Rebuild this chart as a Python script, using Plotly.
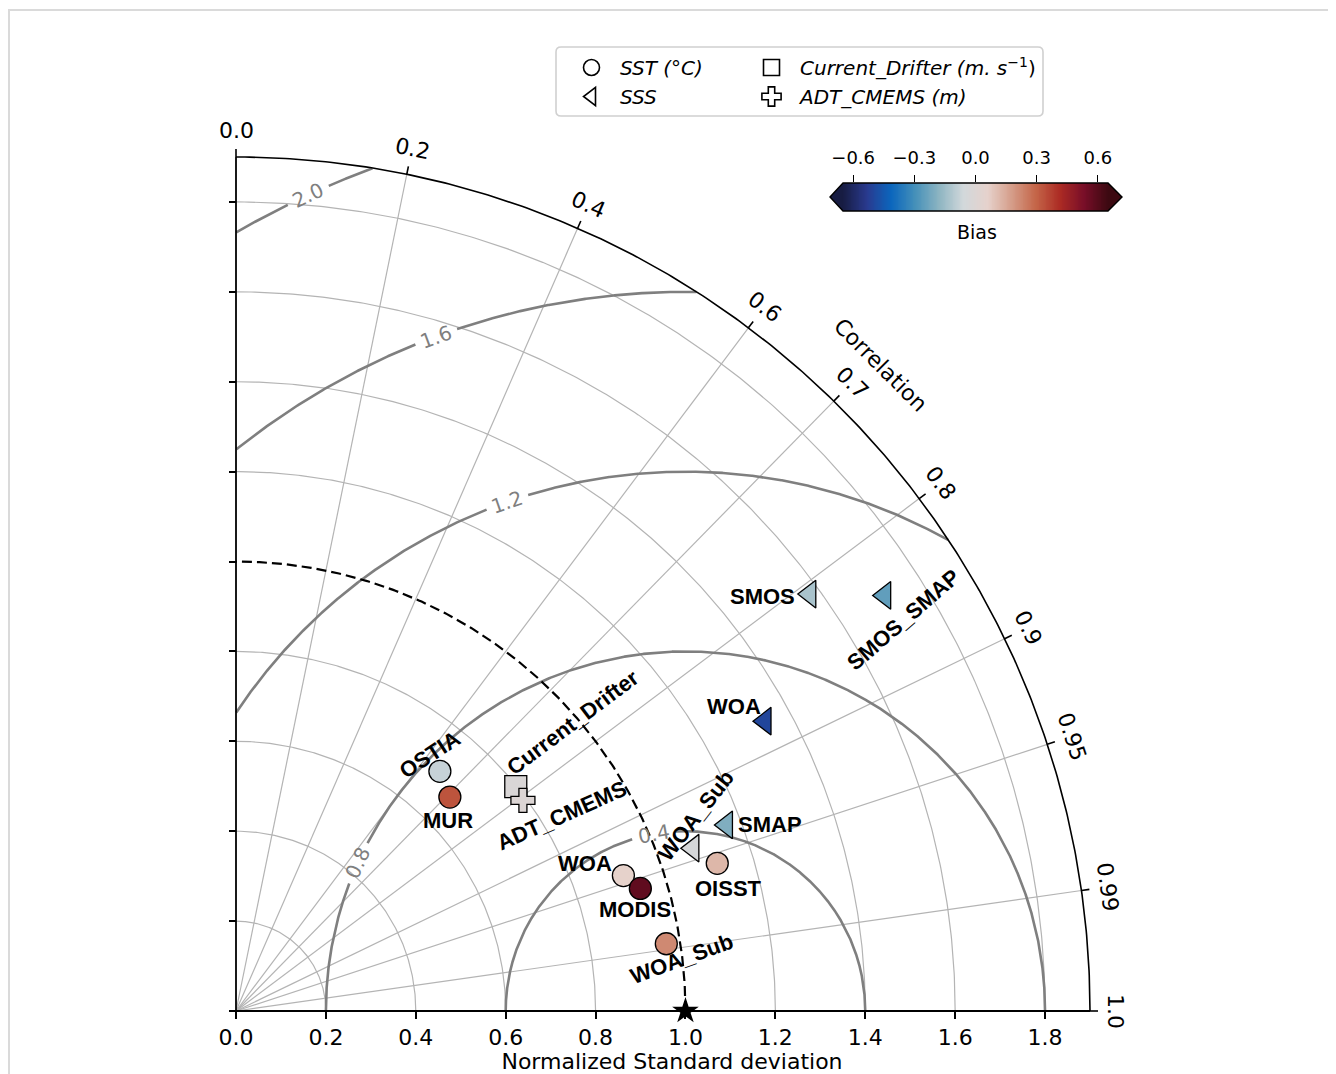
import numpy as np
import plotly.graph_objects as go
from plotly.colors import cmocean

# ---------------- data ----------------
sst_names = ["OSTIA", "MUR", "WOA", "MODIS", "WOA_Sub", "OISST"]
sst_std = [0.700, 0.673, 0.913, 0.940, 0.969, 1.120]
sst_corr = [0.648, 0.707, 0.944, 0.957, 0.988, 0.956]
sst_bias = [-0.08, 0.33, 0.06, 0.58, 0.22, 0.12]

sss_names = ["WOA_Sub", "SMAP", "WOA", "SMOS", "SMOS_SMAP"]
sss_std = [1.079, 1.167, 1.342, 1.578, 1.714]
sss_corr = [0.942, 0.935, 0.877, 0.809, 0.842]
sss_bias = [-0.04, -0.20, -0.50, -0.13, -0.25]

drifter_names = ["Current_Drifter"]
drifter_std = [0.798]
drifter_corr = [0.780]
drifter_bias = [-0.02]

adt_names = ["ADT_CMEMS"]
adt_std = [0.792]
adt_corr = [0.806]
adt_bias = [0.00]

ref_std = [1.0]
ref_corr = [1.0]

std_ticks = [0.0, 0.2, 0.4, 0.6, 0.8, 1.0, 1.2, 1.4, 1.6, 1.8]
std_grid = [0.2, 0.4, 0.6, 0.8, 1.2, 1.4, 1.6, 1.8]
corr_ticks = [0.0, 0.2, 0.4, 0.6, 0.7, 0.8, 0.9, 0.95, 0.99, 1.0]
corr_grid = [0.2, 0.4, 0.6, 0.7, 0.8, 0.9, 0.95, 0.99]
rms_levels = [0.4, 0.8, 1.2, 1.6, 2.0]
bias_ticks = [-0.6, -0.3, 0.0, 0.3, 0.6]
bias_ticktext = ["\u22120.6", "\u22120.3", "0.0", "0.3", "0.6"]
bias_range = [-0.65, 0.65]
std_max = 1.9

# ---------------- styles ----------------
OFF = 8                      # page body margin
W, H = 1336 - OFF, 1074 - OFF
X0, Y0 = 236 - OFF, 1011 - OFF   # pixel of origin inside the figure
S = 854 / 1.9                # pixels per unit
GRID = "#b4b4b4"
CONT = "#7f7f7f"
balance = cmocean.balance

# label placement (dx, dy in px, screen dy down; textangle)
sst_lbl = {"OSTIA": (-10, -17, -33), "MUR": (-2, 23, 0), "WOA": (-38, -12, 0),
           "MODIS": (-5, 21, 0), "WOA_Sub": (16, 15, -20), "OISST": (11, 25, 0)}
sss_lbl = {"WOA_Sub": (3, -33, -52), "SMAP": (44, 0, 0), "WOA": (-31, -15, 0),
           "SMOS": (-47, 2, 0), "SMOS_SMAP": (19, 24, -41)}
drf_lbl = {"Current_Drifter": (57, -64, -37)}
adt_lbl = {"ADT_CMEMS": (39, 15, -24)}
rms_label_phi = {0.4: 100.2, 0.8: 155.7, 1.2: 109.3, 1.6: 110.3, 2.0: 114.8}


def to_xy(std, corr):
    s = np.asarray(std, float)
    c = np.asarray(corr, float)
    return s * c, s * np.sqrt(np.clip(1 - c ** 2, 0, None))


def px2paper(px, py):
    # screen pixel -> paper fraction
    return (px - OFF) / W, 1 - (py - OFF) / H


fig = go.Figure()
line_kw = dict(mode="lines", hoverinfo="skip", showlegend=False)

# std arcs (light grid)
th = np.linspace(0, np.pi / 2, 300)
gx, gy = [], []
for r in std_grid:
    gx += list(r * np.cos(th)) + [None]
    gy += list(r * np.sin(th)) + [None]
# radial correlation lines
for c in corr_grid:
    t = np.arccos(c)
    gx += [0, std_max * np.cos(t), None]
    gy += [0, std_max * np.sin(t), None]
fig.add_trace(go.Scatter(x=gx, y=gy, line=dict(color=GRID, width=1.2), **line_kw))

# RMS contours centered on reference
phi = np.linspace(0, np.pi, 3000)
annotations = []
for R in rms_levels:
    cx = 1 + R * np.cos(phi)
    cy = R * np.sin(phi)
    ok = (cx >= 0) & (cx ** 2 + cy ** 2 <= std_max ** 2)
    pl = np.deg2rad(rms_label_phi[R])
    gap = 22 / S / R
    ok &= np.abs(phi - pl) > gap
    fig.add_trace(go.Scatter(x=np.where(ok, cx, np.nan), y=np.where(ok, cy, np.nan),
                             connectgaps=False, line=dict(color=CONT, width=2.6), **line_kw))
    annotations.append(dict(x=1 + R * np.cos(pl), y=R * np.sin(pl), text=f"{R:.1f}",
                            showarrow=False, textangle=-(rms_label_phi[R] - 90),
                            font=dict(family="DejaVu Sans", size=20, color=CONT),
                            xanchor="center", yanchor="middle"))

# reference dashed arc
fig.add_trace(go.Scatter(x=np.cos(th), y=np.sin(th),
                         line=dict(color="black", width=2.2, dash="10px,5px"), **line_kw))
# outer arc
fig.add_trace(go.Scatter(x=std_max * np.cos(th), y=std_max * np.sin(th),
                         line=dict(color="black", width=1.6), **line_kw))
# correlation ticks and labels
tx, ty = [], []
for c in corr_ticks:
    t = np.arccos(c)
    r1 = std_max + 8 / S
    tx += [std_max * np.cos(t), r1 * np.cos(t), None]
    ty += [std_max * np.sin(t), r1 * np.sin(t), None]
    rl = 1.958
    annotations.append(dict(x=rl * np.cos(t), y=rl * np.sin(t),
                            text=f"{c:g}" if c not in (0.0, 1.0) else f"{c:.1f}",
                            showarrow=False, textangle=90 - np.degrees(t),
                            font=dict(family="DejaVu Sans", size=22, color="black"),
                            xanchor="center", yanchor="middle"))
fig.add_trace(go.Scatter(x=tx, y=ty, line=dict(color="black", width=1.6), **line_kw))
tc = np.deg2rad(45.1)
annotations.append(dict(x=2.03 * np.cos(tc), y=2.03 * np.sin(tc), text="Correlation", showarrow=False,
                        textangle=45, font=dict(family="DejaVu Sans", size=22, color="black"),
                        xanchor="center", yanchor="middle"))

# axis lines
fig.add_trace(go.Scatter(x=[0, std_max, None, 0, 0], y=[0, 0, None, 0, std_max],
                         line=dict(color="black", width=1.8), **line_kw))

# data markers
mk_common = dict(colorscale=balance, cmin=bias_range[0], cmax=bias_range[1],
                 line=dict(color="black", width=1.3))
groups = [
    (sst_names, sst_std, sst_corr, sst_bias, "circle", 22, sst_lbl),
    (sss_names, sss_std, sss_corr, sss_bias, "triangle-left", 24, sss_lbl),
    (drifter_names, drifter_std, drifter_corr, drifter_bias, "square", 22, drf_lbl),
    (adt_names, adt_std, adt_corr, adt_bias, "cross", 20, adt_lbl),
]
for names, sd, cr, bs, sym, size, lbl in groups:
    x, y = to_xy(sd, cr)
    fig.add_trace(go.Scatter(x=x, y=y, mode="markers", cliponaxis=False, showlegend=False,
                             text=names, hoverinfo="text",
                             marker=dict(symbol=sym, size=size, color=bs, **mk_common)))
    for n, xi, yi in zip(names, x, y):
        dx, dy, ang = lbl[n]
        annotations.append(dict(x=xi, y=yi, xshift=dx, yshift=-dy, text=f"<b>{n}</b>",
                                showarrow=False, textangle=ang,
                                font=dict(family="Liberation Sans", size=22, color="black"),
                                xanchor="center", yanchor="middle"))

# reference star
rx, ry = to_xy(ref_std, ref_corr)
fig.add_trace(go.Scatter(x=rx, y=ry, mode="markers", cliponaxis=False, showlegend=False,
                         hoverinfo="skip", marker=dict(symbol="star", size=20, color="black")))

# legend entries
leg_items = [
    ("<i>SST (°C)</i>", "circle", "legend"),
    ("<i>SSS</i>", "triangle-left", "legend"),
    ("<i>Current_Drifter (m. s</i><sup>\u22121</sup>)", "square", "legend2"),
    ("<i>ADT_CMEMS (m)</i>", "cross", "legend2"),
]
for name, sym, lg in leg_items:
    fig.add_trace(go.Scatter(x=[None], y=[None], mode="markers", name=name, legend=lg,
                             marker=dict(symbol=sym, size=16, color="white",
                                         line=dict(color="black", width=1.6))))

# colorbar (heatmap on its own axes)
cb_x = np.linspace(bias_range[0], bias_range[1], 300)
fig.add_trace(go.Heatmap(x=cb_x, y=[0.5], z=[cb_x], colorscale=balance, zmin=bias_range[0],
                         zmax=bias_range[1], showscale=False, hoverinfo="skip",
                         xaxis="x2", yaxis="y2"))
bx, by = px2paper(977, 232)
annotations.append(dict(x=bx, y=by, xref="paper", yref="paper", text="Bias",
                        showarrow=False, font=dict(family="DejaVu Sans", size=19, color="black"),
                        xanchor="center", yanchor="middle"))

# shapes
shapes = []
L, R_, T, B = 843, 1108, 183, 211


def P(a, b):
    p = px2paper(a, b)
    return f"{p[0]:.5f},{p[1]:.5f}"


def pth(pts):
    return "M " + " L ".join(P(a, b) for a, b in pts) + " Z"


shapes.append(dict(type="path", xref="paper", yref="paper",
                   path=pth([(L, T), (L - 13, (T + B) / 2), (L, B)]),
                   fillcolor=balance[0], line=dict(width=0)))
shapes.append(dict(type="path", xref="paper", yref="paper",
                   path=pth([(R_, T), (R_ + 14, (T + B) / 2), (R_, B)]),
                   fillcolor=balance[-1], line=dict(width=0)))
shapes.append(dict(type="path", xref="paper", yref="paper", layer="above",
                   path=pth([(L - 13, (T + B) / 2), (L, T), (R_, T), (R_ + 14, (T + B) / 2), (R_, B), (L, B)]),
                   line=dict(color="black", width=1.4)))
# legend frame (rounded)
lx0, ly0, lx1, ly1, rr = 556, 47, 1043, 116, 5
legend_path = (f"M {P(lx0 + rr, ly0)} L {P(lx1 - rr, ly0)} Q {P(lx1, ly0)} {P(lx1, ly0 + rr)} "
               f"L {P(lx1, ly1 - rr)} Q {P(lx1, ly1)} {P(lx1 - rr, ly1)} L {P(lx0 + rr, ly1)} "
               f"Q {P(lx0, ly1)} {P(lx0, ly1 - rr)} L {P(lx0, ly0 + rr)} Q {P(lx0, ly0)} {P(lx0 + rr, ly0)} Z")
shapes.append(dict(type="path", xref="paper", yref="paper", path=legend_path,
                   line=dict(color="#d0d0d0", width=1.6), fillcolor="rgba(255,255,255,0)"))
# figure frame
fx0, fy0 = px2paper(9, 10)
fx1, _ = px2paper(1333, 10)
shapes.append(dict(type="rect", xref="paper", yref="paper", x0=fx0, x1=fx1, y0=-0.05, y1=fy0,
                   line=dict(color="#dadada", width=2)))

leg_common = dict(xanchor="left", yanchor="top", bgcolor="rgba(0,0,0,0)", borderwidth=0,
                  font=dict(family="DejaVu Sans", size=20, color="black"), itemsizing="trace",
                  orientation="v", tracegroupgap=0, itemwidth=47)
lg1x, lgy = px2paper(563, 48)
lg2x, _ = px2paper(743, 48)
cbx0, cby1 = px2paper(L, T)
cbx1, cby0 = px2paper(R_, B)

fig.update_layout(
    width=W, height=H,
    margin=dict(l=0, r=0, t=0, b=0, autoexpand=False),
    paper_bgcolor="white", plot_bgcolor="rgba(0,0,0,0)",
    xaxis=dict(range=[-X0 / S, (W - X0) / S], domain=[0, 1], anchor="free", position=(H - Y0) / H,
               tickvals=std_ticks, ticktext=[f"{v:.1f}" for v in std_ticks],
               ticks="outside", ticklen=7, tickwidth=1.6, tickcolor="black",
               showline=False, showgrid=False, zeroline=False,
               tickfont=dict(family="DejaVu Sans", size=22, color="black"),
               title=dict(text="Normalized Standard deviation", standoff=8,
                          font=dict(family="DejaVu Sans", size=22, color="black"))),
    yaxis=dict(range=[-(H - Y0) / S, Y0 / S], domain=[0, 1], anchor="free", position=X0 / W,
               tickvals=std_ticks, ticks="outside", ticklen=7, tickwidth=1.6, tickcolor="black",
               showticklabels=False, showline=False, showgrid=False, zeroline=False),
    xaxis2=dict(domain=[cbx0, cbx1], anchor="y2", side="top", range=bias_range,
                tickvals=bias_ticks, ticktext=bias_ticktext, ticks="outside", ticklen=7,
                tickwidth=1.4, tickcolor="black", showline=False, showgrid=False, zeroline=False,
                ticklabelstandoff=4,
                tickfont=dict(family="DejaVu Sans", size=18, color="black")),
    yaxis2=dict(domain=[cby0, cby1], anchor="x2", range=[0, 1], visible=False),
    legend=dict(x=lg1x, y=lgy, **leg_common),
    legend2=dict(x=lg2x, y=lgy, **leg_common),
    annotations=annotations,
    shapes=shapes,
    hovermode="closest",
)

fig.write_html("out.html")
